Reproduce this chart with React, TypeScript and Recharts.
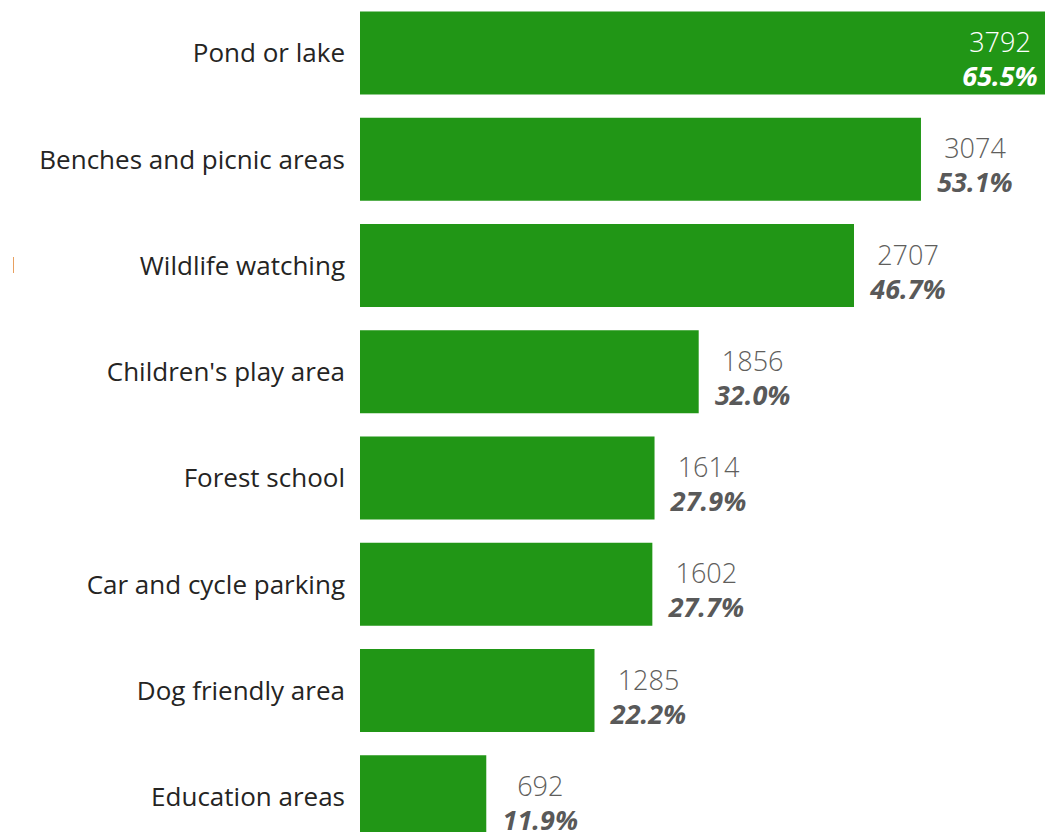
import { Bar, BarChart, LabelList, XAxis, YAxis } from "recharts";

const categories = [
  "Pond or lake",
  "Benches and picnic areas",
  "Wildlife watching",
  "Children's play area",
  "Forest school",
  "Car and cycle parking",
  "Dog friendly area",
  "Education areas",
];
const counts = [3792, 3074, 2707, 1856, 1614, 1602, 1285, 692];
const percents = ["65.5%", "53.1%", "46.7%", "32.0%", "27.9%", "27.7%", "22.2%", "11.9%"];

const data = categories.map((name, i) => ({
  name,
  count: counts[i],
  pct: percents[i],
}));

const FONT = "'Open Sans', 'Noto Sans', sans-serif";
const VIEW_W = 1045;

const ValueLabel = (props: any) => {
  const { x, y, width, height, index } = props;
  const end = x + width;
  const inside = end + 110 > VIEW_W;
  const cx = inside ? end - 52 : end + 54;
  const cy = y + height / 2;
  return (
    <g>
      <text
        x={cx}
        y={cy - 1}
        textAnchor="middle"
        fill={inside ? "#ffffff" : "#605e5c"}
        fontFamily={FONT}
        fontSize={27}
        fontWeight={300}
      >
        {data[index].count}
      </text>
      <text
        x={cx}
        y={cy + 33}
        textAnchor="middle"
        fill={inside ? "#ffffff" : "#595959"}
        fontFamily={FONT}
        fontSize={27}
        fontWeight="bold"
        fontStyle="italic"
      >
        {data[index].pct}
      </text>
    </g>
  );
};

export default function App() {
  return (
    <div
      style={{
        position: "absolute",
        left: 0,
        top: 0,
        width: VIEW_W,
        height: 832,
        overflow: "hidden",
        background: "#fff",
      }}
    >
      <div
        style={{
          position: "absolute",
          left: 13,
          top: 257,
          width: 1,
          height: 16,
          background: "#e8a060",
        }}
      />
      <BarChart
        layout="vertical"
        width={1052}
        height={850}
        data={data}
        margin={{ top: 0, right: 0, bottom: 0, left: 0 }}
        barCategoryGap={11.5}
      >
        <XAxis type="number" hide domain={[0, 3792]} />
        <YAxis
          type="category"
          dataKey="name"
          width={360}
          axisLine={false}
          tickLine={false}
          tickMargin={9}
          tick={{ fill: "#252423", fontSize: 26, fontFamily: FONT }}
        />
        <Bar dataKey="count" fill="#219616" isAnimationActive={false}>
          <LabelList dataKey="count" content={ValueLabel} />
        </Bar>
      </BarChart>
    </div>
  );
}
